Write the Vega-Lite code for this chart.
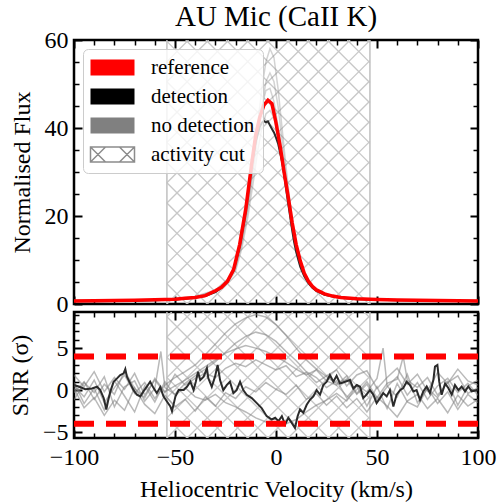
{
"$schema": "https://vega.github.io/schema/vega-lite/v6.json",
"title": {"text": "AU Mic (CaII K)", "anchor": "middle", "frame": "group", "font": "Liberation Serif", "fontSize": 29, "fontWeight": "normal", "color": "black", "offset": -5},
"padding": {"left": 7, "right": 5, "top": 2, "bottom": 0},
"spacing": 8,
"bounds": "flush",
"config": {
  "view": {"stroke": "black", "strokeWidth": 2.5},
  "axis": {"grid": false, "domain": false, "labelFlush": false, "labelOverlap": false, "labelFont": "Liberation Serif", "labelFontSize": 24, "labelColor": "black", "titleFont": "Liberation Serif", "titleFontSize": 24, "titleFontWeight": "normal", "titleColor": "black", "tickColor": "black"},
  "legend": {"orient": "top-left", "offset": 9, "padding": 8, "fillColor": "rgba(255,255,255,0.8)", "strokeColor": "#cccccc", "strokeWidth": 1, "cornerRadius": 5, "labelFont": "Liberation Serif", "labelFontSize": 21, "labelColor": "black", "symbolSize": 4, "symbolOffset": 11, "labelOffset": 28, "rowPadding": 7, "symbolOpacity": 1}
},
"datasets": {
  "hatchTop": [
    {"x":-54,"y":55.09,"x2":-43.31,"y2":60},{"x":-54,"y":50.5,"x2":-33.31,"y2":60},{"x":-54,"y":45.91,"x2":-23.31,"y2":60},{"x":-54,"y":41.32,"x2":-13.31,"y2":60},{"x":-54,"y":36.73,"x2":-3.31,"y2":60},{"x":-54,"y":32.14,"x2":6.69,"y2":60},{"x":-54,"y":27.55,"x2":16.69,"y2":60},{"x":-54,"y":22.95,"x2":26.69,"y2":60},{"x":-54,"y":18.36,"x2":36.69,"y2":60},{"x":-54,"y":13.77,"x2":46.5,"y2":59.91},{"x":-54,"y":9.18,"x2":46.5,"y2":55.32},{"x":-54,"y":4.59,"x2":46.5,"y2":50.73},{"x":-54,"y":0,"x2":46.5,"y2":46.14},{"x":-44,"y":0,"x2":46.5,"y2":41.55},{"x":-34,"y":0,"x2":46.5,"y2":36.96},{"x":-24,"y":0,"x2":46.5,"y2":32.37},{"x":-14,"y":0,"x2":46.5,"y2":27.78},{"x":-4,"y":0,"x2":46.5,"y2":23.18},{"x":6,"y":0,"x2":46.5,"y2":18.59},{"x":16,"y":0,"x2":46.5,"y2":14.0},{"x":26,"y":0,"x2":46.5,"y2":9.41},{"x":36,"y":0,"x2":46.5,"y2":4.82},
    {"x":-54,"y":4.59,"x2":-44,"y2":0},{"x":-54,"y":9.18,"x2":-34,"y2":0},{"x":-54,"y":13.77,"x2":-24,"y2":0},{"x":-54,"y":18.36,"x2":-14,"y2":0},{"x":-54,"y":22.95,"x2":-4,"y2":0},{"x":-54,"y":27.55,"x2":6,"y2":0},{"x":-54,"y":32.14,"x2":16,"y2":0},{"x":-54,"y":36.73,"x2":26,"y2":0},{"x":-54,"y":41.32,"x2":36,"y2":0},{"x":-54,"y":45.91,"x2":46,"y2":0},{"x":-54,"y":50.5,"x2":46.5,"y2":4.36},{"x":-54,"y":55.09,"x2":46.5,"y2":8.95},{"x":-54,"y":59.68,"x2":46.5,"y2":13.54},{"x":-44.69,"y":60,"x2":46.5,"y2":18.13},{"x":-34.69,"y":60,"x2":46.5,"y2":22.73},{"x":-24.69,"y":60,"x2":46.5,"y2":27.32},{"x":-14.69,"y":60,"x2":46.5,"y2":31.91},{"x":-4.69,"y":60,"x2":46.5,"y2":36.5},{"x":5.31,"y":60,"x2":46.5,"y2":41.09},{"x":15.31,"y":60,"x2":46.5,"y2":45.68},{"x":25.31,"y":60,"x2":46.5,"y2":50.27},{"x":35.31,"y":60,"x2":46.5,"y2":54.86},{"x":45.31,"y":60,"x2":46.5,"y2":59.45}
  ],
  "hatchBot": [
    {"x":-54,"y":8.73,"x2":-51.62,"y2":9.3},{"x":-54,"y":6.32,"x2":-41.62,"y2":9.3},{"x":-54,"y":3.92,"x2":-31.62,"y2":9.3},{"x":-54,"y":1.51,"x2":-21.62,"y2":9.3},{"x":-54,"y":-0.89,"x2":-11.62,"y2":9.3},{"x":-54,"y":-3.3,"x2":-1.62,"y2":9.3},{"x":-54,"y":-5.7,"x2":8.38,"y2":9.3},{"x":-44,"y":-5.7,"x2":18.38,"y2":9.3},{"x":-34,"y":-5.7,"x2":28.38,"y2":9.3},{"x":-24,"y":-5.7,"x2":38.38,"y2":9.3},{"x":-14,"y":-5.7,"x2":46.5,"y2":8.85},{"x":-4,"y":-5.7,"x2":46.5,"y2":6.44},{"x":6,"y":-5.7,"x2":46.5,"y2":4.04},{"x":16,"y":-5.7,"x2":46.5,"y2":1.63},{"x":26,"y":-5.7,"x2":46.5,"y2":-0.77},{"x":36,"y":-5.7,"x2":46.5,"y2":-3.18},
    {"x":-54,"y":-3.3,"x2":-44,"y2":-5.7},{"x":-54,"y":-0.89,"x2":-34,"y2":-5.7},{"x":-54,"y":1.51,"x2":-24,"y2":-5.7},{"x":-54,"y":3.92,"x2":-14,"y2":-5.7},{"x":-54,"y":6.32,"x2":-4,"y2":-5.7},{"x":-54,"y":8.73,"x2":6,"y2":-5.7},{"x":-46.38,"y":9.3,"x2":16,"y2":-5.7},{"x":-36.38,"y":9.3,"x2":26,"y2":-5.7},{"x":-26.38,"y":9.3,"x2":36,"y2":-5.7},{"x":-16.38,"y":9.3,"x2":46,"y2":-5.7},{"x":-6.38,"y":9.3,"x2":46.5,"y2":-3.42},{"x":3.62,"y":9.3,"x2":46.5,"y2":-1.01},{"x":13.62,"y":9.3,"x2":46.5,"y2":1.39},{"x":23.62,"y":9.3,"x2":46.5,"y2":3.8},{"x":33.62,"y":9.3,"x2":46.5,"y2":6.2},{"x":43.62,"y":9.3,"x2":46.5,"y2":8.61}
  ],
  "cut": [{"edge": -54}, {"edge": 46.5}],
  "keys": [{"kind": "reference"}, {"kind": "detection"}, {"kind": "no detection"}, {"kind": "activity cut"}],
  "thresh": [{"snr": 4}, {"snr": -4}],
  "fluxRef": [
    {"v":-100,"f":0.7},{"v":-90,"f":0.75},{"v":-80,"f":0.8},{"v":-70,"f":0.85},{"v":-60,"f":0.95},{"v":-50,"f":1.1},{"v":-45,"f":1.3},{"v":-40,"f":1.5},{"v":-35,"f":1.9},{"v":-30,"f":3.0},{"v":-27,"f":3.8},{"v":-24,"f":5.2},{"v":-21,"f":7.8},{"v":-18,"f":13.5},{"v":-15,"f":21.5},{"v":-12,"f":32},{"v":-10,"f":38.5},{"v":-8,"f":42.5},{"v":-6,"f":45.2},{"v":-4,"f":46.3},{"v":-2,"f":45.5},{"v":0,"f":41.2},{"v":2,"f":36},{"v":4,"f":30},{"v":6,"f":24.5},{"v":8,"f":18.5},{"v":10,"f":13.5},{"v":12,"f":9.8},{"v":14,"f":7.0},{"v":16,"f":5.2},{"v":18,"f":4.0},{"v":20,"f":3.2},{"v":24,"f":2.3},{"v":28,"f":1.8},{"v":32,"f":1.5},{"v":40,"f":1.2},{"v":50,"f":1.0},{"v":60,"f":0.9},{"v":70,"f":0.85},{"v":80,"f":0.8},{"v":90,"f":0.75},{"v":100,"f":0.7}
  ],
  "fluxDet": [
    {"v":-100,"f":0.6},{"v":-90,"f":0.65},{"v":-80,"f":0.7},{"v":-70,"f":0.75},{"v":-60,"f":0.85},{"v":-50,"f":1.0},{"v":-45,"f":1.2},{"v":-40,"f":1.45},{"v":-35,"f":1.8},{"v":-30,"f":2.7},{"v":-27,"f":3.7},{"v":-24,"f":5.0},{"v":-21,"f":7.6},{"v":-18,"f":13.0},{"v":-15,"f":21.0},{"v":-12,"f":31.5},{"v":-10,"f":37.0},{"v":-8,"f":40.3},{"v":-7,"f":41.2},{"v":-6,"f":41.6},{"v":-5,"f":41.3},{"v":-4,"f":41.5},{"v":-3,"f":40.6},{"v":-2,"f":39.8},{"v":-1,"f":39.0},{"v":0,"f":37.8},{"v":1,"f":36.5},{"v":2,"f":34.5},{"v":3,"f":32.3},{"v":4,"f":29.5},{"v":5,"f":26.3},{"v":6,"f":23.0},{"v":7,"f":20.0},{"v":8,"f":16.8},{"v":9,"f":14.0},{"v":10,"f":11.8},{"v":12,"f":8.5},{"v":14,"f":6.3},{"v":16,"f":4.8},{"v":18,"f":3.7},{"v":20,"f":3.0},{"v":24,"f":2.1},{"v":28,"f":1.7},{"v":32,"f":1.4},{"v":40,"f":1.1},{"v":50,"f":0.95},{"v":60,"f":0.85},{"v":70,"f":0.8},{"v":80,"f":0.75},{"v":90,"f":0.7},{"v":100,"f":0.65}
  ],
  "fluxGray": [
    {"s":"A","v":-100,"f":0.8},{"s":"A","v":-80,"f":0.85},{"s":"A","v":-60,"f":1.0},{"s":"A","v":-50,"f":1.2},{"s":"A","v":-40,"f":1.6},{"s":"A","v":-30,"f":3.0},{"s":"A","v":-24,"f":5.5},{"s":"A","v":-20,"f":8.5},{"s":"A","v":-17,"f":14},{"s":"A","v":-14,"f":22},{"s":"A","v":-11,"f":33},{"s":"A","v":-9,"f":41},{"s":"A","v":-7,"f":49},{"s":"A","v":-5,"f":55},{"s":"A","v":-3,"f":58},{"s":"A","v":-1,"f":56},{"s":"A","v":1,"f":49},{"s":"A","v":3,"f":40},{"s":"A","v":5,"f":31},{"s":"A","v":7,"f":23},{"s":"A","v":9,"f":16.5},{"s":"A","v":11,"f":11.5},{"s":"A","v":13,"f":8},{"s":"A","v":16,"f":5},{"s":"A","v":20,"f":3.2},{"s":"A","v":25,"f":2.2},{"s":"A","v":32,"f":1.5},{"s":"A","v":45,"f":1.1},{"s":"A","v":60,"f":0.95},{"s":"A","v":80,"f":0.85},{"s":"A","v":100,"f":0.8},
    {"s":"B","v":-100,"f":0.7},{"s":"B","v":-80,"f":0.8},{"s":"B","v":-60,"f":0.95},{"s":"B","v":-50,"f":1.1},{"s":"B","v":-40,"f":1.5},{"s":"B","v":-30,"f":2.9},{"s":"B","v":-24,"f":5.2},{"s":"B","v":-20,"f":8.0},{"s":"B","v":-17,"f":13.5},{"s":"B","v":-14,"f":21},{"s":"B","v":-11,"f":31},{"s":"B","v":-9,"f":38.5},{"s":"B","v":-7,"f":45},{"s":"B","v":-5,"f":50.5},{"s":"B","v":-3,"f":52.5},{"s":"B","v":-1,"f":50.5},{"s":"B","v":1,"f":45},{"s":"B","v":3,"f":37},{"s":"B","v":5,"f":29},{"s":"B","v":7,"f":21.5},{"s":"B","v":9,"f":15.5},{"s":"B","v":11,"f":10.8},{"s":"B","v":13,"f":7.6},{"s":"B","v":16,"f":4.8},{"s":"B","v":20,"f":3.1},{"s":"B","v":25,"f":2.1},{"s":"B","v":32,"f":1.5},{"s":"B","v":45,"f":1.05},{"s":"B","v":60,"f":0.9},{"s":"B","v":80,"f":0.8},{"s":"B","v":100,"f":0.75},
    {"s":"C","v":-100,"f":0.9},{"s":"C","v":-80,"f":0.95},{"s":"C","v":-60,"f":1.05},{"s":"C","v":-50,"f":1.25},{"s":"C","v":-40,"f":1.7},{"s":"C","v":-30,"f":3.2},{"s":"C","v":-24,"f":5.6},{"s":"C","v":-20,"f":8.8},{"s":"C","v":-17,"f":14.5},{"s":"C","v":-14,"f":22.5},{"s":"C","v":-11,"f":32.5},{"s":"C","v":-9,"f":39.5},{"s":"C","v":-7,"f":45},{"s":"C","v":-5,"f":48.5},{"s":"C","v":-3,"f":49},{"s":"C","v":-1,"f":46},{"s":"C","v":1,"f":40.5},{"s":"C","v":3,"f":34},{"s":"C","v":5,"f":27.5},{"s":"C","v":7,"f":21},{"s":"C","v":9,"f":15.5},{"s":"C","v":11,"f":11},{"s":"C","v":13,"f":7.8},{"s":"C","v":16,"f":5},{"s":"C","v":20,"f":3.3},{"s":"C","v":25,"f":2.3},{"s":"C","v":32,"f":1.6},{"s":"C","v":45,"f":1.2},{"s":"C","v":60,"f":1.0},{"s":"C","v":80,"f":0.9},{"s":"C","v":100,"f":0.85},
    {"s":"D","v":-100,"f":0.75},{"s":"D","v":-80,"f":0.8},{"s":"D","v":-60,"f":0.9},{"s":"D","v":-50,"f":1.05},{"s":"D","v":-40,"f":1.4},{"s":"D","v":-30,"f":2.7},{"s":"D","v":-24,"f":4.8},{"s":"D","v":-20,"f":7.5},{"s":"D","v":-17,"f":12.5},{"s":"D","v":-14,"f":19.5},{"s":"D","v":-11,"f":28.5},{"s":"D","v":-9,"f":35},{"s":"D","v":-7,"f":40},{"s":"D","v":-5,"f":43.2},{"s":"D","v":-3,"f":44},{"s":"D","v":-1,"f":42.5},{"s":"D","v":1,"f":38},{"s":"D","v":3,"f":32},{"s":"D","v":5,"f":25.5},{"s":"D","v":7,"f":19.5},{"s":"D","v":9,"f":14.3},{"s":"D","v":11,"f":10},{"s":"D","v":13,"f":7.2},{"s":"D","v":16,"f":4.6},{"s":"D","v":20,"f":3.0},{"s":"D","v":25,"f":2.1},{"s":"D","v":32,"f":1.5},{"s":"D","v":45,"f":1.05},{"s":"D","v":60,"f":0.9},{"s":"D","v":80,"f":0.8},{"s":"D","v":100,"f":0.75}
  ],
  "snrDet": [
    {"v":-100,"r":0.6},{"v":-97.7,"r":0.43},{"v":-94.4,"r":0.1},{"v":-91.1,"r":0.2},{"v":-88.6,"r":0.4},{"v":-87,"r":0.0},{"v":-85.3,"r":-0.95},{"v":-84,"r":-2.3},{"v":-83.2,"r":-1.35},{"v":-82,"r":-0.15},{"v":-80.4,"r":1.0},{"v":-78.7,"r":1.4},{"v":-77.1,"r":1.8},{"v":-75.4,"r":2.0},{"v":-74.6,"r":2.5},{"v":-73.8,"r":1.6},{"v":-72.2,"r":0.8},{"v":-70.5,"r":0.0},{"v":-68.9,"r":-0.55},{"v":-67.2,"r":-0.75},{"v":-65.6,"r":-0.15},{"v":-63.9,"r":0.43},{"v":-62.3,"r":1.0},{"v":-60.6,"r":0.24},{"v":-59,"r":-0.36},{"v":-57.3,"r":0.36},{"v":-55.7,"r":-0.75},{"v":-54,"r":-1.35},{"v":-52.3,"r":-1.95},{"v":-51.5,"r":-2.5},{"v":-49.8,"r":-0.76},{"v":-48.2,"r":0.0},{"v":-45.7,"r":0.0},{"v":-44.1,"r":0.4},{"v":-42.4,"r":1.0},{"v":-40.8,"r":0.0},{"v":-39.7,"r":1.0},{"v":-38.6,"r":2.2},{"v":-37.5,"r":1.2},{"v":-35.8,"r":1.6},{"v":-34.2,"r":2.6},{"v":-33.5,"r":1.4},{"v":-31.8,"r":0.4},{"v":-30.2,"r":1.6},{"v":-28.9,"r":3.0},{"v":-27.7,"r":1.2},{"v":-26.1,"r":0.0},{"v":-24.4,"r":0.6},{"v":-22.8,"r":1.0},{"v":-21.1,"r":-0.36},{"v":-19.5,"r":0.0},{"v":-17.8,"r":1.0},{"v":-16.2,"r":0.0},{"v":-14.5,"r":-0.55},{"v":-12,"r":-0.95},{"v":-9.5,"r":-1.55},{"v":-7.1,"r":-2.15},{"v":-4.6,"r":-3.1},{"v":-2.1,"r":-3.5},{"v":-0.4,"r":-3.3},{"v":1.2,"r":-3.7},{"v":2.9,"r":-3.1},{"v":4.5,"r":-4.1},{"v":6.1,"r":-3.3},{"v":7.8,"r":-3.9},{"v":9.4,"r":-4.5},{"v":10.7,"r":-3.1},{"v":11.9,"r":-2.3},{"v":13.5,"r":-2.7},{"v":15.2,"r":-1.75},{"v":16.8,"r":-1.15},{"v":18.5,"r":-0.75},{"v":20.1,"r":0.0},{"v":21.8,"r":-0.55},{"v":23.4,"r":0.6},{"v":25.1,"r":1.0},{"v":26.7,"r":1.8},{"v":28.4,"r":1.0},{"v":30,"r":1.7},{"v":31.7,"r":0.8},{"v":34.2,"r":1.0},{"v":36.6,"r":1.2},{"v":38.3,"r":0.2},{"v":40,"r":0.6},{"v":41.6,"r":0.4},{"v":43.2,"r":-0.95},{"v":44.9,"r":-0.5},{"v":46.5,"r":0.0},{"v":48.2,"r":-0.55},{"v":49.8,"r":-1.55},{"v":51.5,"r":-0.95},{"v":53.1,"r":-0.36},{"v":54.8,"r":-0.75},{"v":56.4,"r":0.0},{"v":58.1,"r":-1.95},{"v":59.7,"r":-0.55},{"v":61.4,"r":0.0},{"v":63,"r":0.25},{"v":64.7,"r":1.0},{"v":66.3,"r":0.6},{"v":68,"r":-0.15},{"v":69.6,"r":0.0},{"v":71.3,"r":-1.15},{"v":72.9,"r":-0.15},{"v":74.6,"r":0.43},{"v":76.2,"r":-0.36},{"v":77.9,"r":1.2},{"v":78.7,"r":2.8},{"v":79.9,"r":3.0},{"v":80.8,"r":1.0},{"v":82,"r":-0.55},{"v":83.7,"r":0.8},{"v":85.3,"r":0.25},{"v":87,"r":-0.55},{"v":88.6,"r":0.6},{"v":90.3,"r":0.0},{"v":91.9,"r":0.43},{"v":93.6,"r":-0.15},{"v":95.2,"r":0.43},{"v":96.9,"r":-0.15},{"v":99.3,"r":0.0},{"v":100,"r":0.1}
  ],
  "snrGray": [
    {"s":"1","v":-100,"r":0.5},{"s":"1","v":-95,"r":-0.8},{"s":"1","v":-90,"r":1.2},{"s":"1","v":-85,"r":-1.5},{"s":"1","v":-80,"r":0.3},{"s":"1","v":-75,"r":1.8},{"s":"1","v":-70,"r":-0.4},{"s":"1","v":-65,"r":0.9},{"s":"1","v":-60,"r":-1.0},{"s":"1","v":-55,"r":0.6},{"s":"1","v":-50,"r":1.5},{"s":"1","v":-45,"r":2.2},{"s":"1","v":-40,"r":3.0},{"s":"1","v":-35,"r":4.2},{"s":"1","v":-30,"r":5.5},{"s":"1","v":-25,"r":6.8},{"s":"1","v":-20,"r":7.9},{"s":"1","v":-15,"r":8.6},{"s":"1","v":-10,"r":9.0},{"s":"1","v":-5,"r":8.7},{"s":"1","v":0,"r":7.8},{"s":"1","v":5,"r":6.5},{"s":"1","v":10,"r":5.0},{"s":"1","v":15,"r":3.6},{"s":"1","v":20,"r":2.5},{"s":"1","v":25,"r":1.6},{"s":"1","v":30,"r":0.8},{"s":"1","v":35,"r":1.3},{"s":"1","v":40,"r":-0.5},{"s":"1","v":45,"r":0.7},{"s":"1","v":50,"r":-1.2},{"s":"1","v":55,"r":0.4},{"s":"1","v":60,"r":1.6},{"s":"1","v":65,"r":-0.6},{"s":"1","v":70,"r":0.9},{"s":"1","v":75,"r":-1.1},{"s":"1","v":80,"r":0.5},{"s":"1","v":85,"r":1.4},{"s":"1","v":90,"r":-0.3},{"s":"1","v":95,"r":0.8},{"s":"1","v":100,"r":-0.6},
    {"s":"2","v":-100,"r":-1.2},{"s":"2","v":-95,"r":0.9},{"s":"2","v":-90,"r":-0.3},{"s":"2","v":-85,"r":1.6},{"s":"2","v":-80,"r":-2.0},{"s":"2","v":-75,"r":0.4},{"s":"2","v":-70,"r":1.1},{"s":"2","v":-65,"r":-1.3},{"s":"2","v":-60,"r":0.2},{"s":"2","v":-57,"r":4.6},{"s":"2","v":-55,"r":0.3},{"s":"2","v":-50,"r":-0.5},{"s":"2","v":-45,"r":0.8},{"s":"2","v":-40,"r":1.7},{"s":"2","v":-35,"r":2.5},{"s":"2","v":-30,"r":3.4},{"s":"2","v":-25,"r":4.5},{"s":"2","v":-20,"r":5.6},{"s":"2","v":-15,"r":6.4},{"s":"2","v":-10,"r":6.9},{"s":"2","v":-5,"r":6.6},{"s":"2","v":0,"r":5.8},{"s":"2","v":5,"r":4.6},{"s":"2","v":10,"r":3.5},{"s":"2","v":15,"r":2.2},{"s":"2","v":20,"r":1.5},{"s":"2","v":25,"r":0.3},{"s":"2","v":30,"r":1.1},{"s":"2","v":35,"r":-0.9},{"s":"2","v":40,"r":0.6},{"s":"2","v":45,"r":-0.2},{"s":"2","v":50,"r":1.4},{"s":"2","v":53,"r":5.0},{"s":"2","v":55,"r":0.5},{"s":"2","v":60,"r":-0.8},{"s":"2","v":65,"r":1.9},{"s":"2","v":70,"r":-1.5},{"s":"2","v":75,"r":0.2},{"s":"2","v":80,"r":-0.9},{"s":"2","v":85,"r":1.0},{"s":"2","v":90,"r":-1.8},{"s":"2","v":95,"r":0.5},{"s":"2","v":100,"r":1.2},
    {"s":"3","v":-100,"r":0.9},{"s":"3","v":-95,"r":-1.6},{"s":"3","v":-90,"r":0.2},{"s":"3","v":-85,"r":-2.4},{"s":"3","v":-80,"r":1.1},{"s":"3","v":-75,"r":-0.7},{"s":"3","v":-70,"r":-2.6},{"s":"3","v":-65,"r":0.5},{"s":"3","v":-60,"r":-1.4},{"s":"3","v":-55,"r":1.0},{"s":"3","v":-50,"r":-0.6},{"s":"3","v":-45,"r":0.3},{"s":"3","v":-40,"r":-0.8},{"s":"3","v":-35,"r":-1.2},{"s":"3","v":-30,"r":-0.5},{"s":"3","v":-25,"r":-1.5},{"s":"3","v":-20,"r":-2.0},{"s":"3","v":-15,"r":-2.6},{"s":"3","v":-10,"r":-3.3},{"s":"3","v":-5,"r":-3.8},{"s":"3","v":0,"r":-4.2},{"s":"3","v":5,"r":-4.0},{"s":"3","v":10,"r":-3.5},{"s":"3","v":15,"r":-2.6},{"s":"3","v":20,"r":-1.8},{"s":"3","v":25,"r":-1.2},{"s":"3","v":30,"r":-0.4},{"s":"3","v":35,"r":-1.3},{"s":"3","v":40,"r":0.5},{"s":"3","v":45,"r":-1.9},{"s":"3","v":50,"r":0.4},{"s":"3","v":55,"r":-2.2},{"s":"3","v":60,"r":0.8},{"s":"3","v":65,"r":-1.4},{"s":"3","v":70,"r":-2.0},{"s":"3","v":75,"r":0.3},{"s":"3","v":80,"r":-1.6},{"s":"3","v":85,"r":-0.2},{"s":"3","v":90,"r":-2.3},{"s":"3","v":95,"r":-0.5},{"s":"3","v":100,"r":-1.5},
    {"s":"4","v":-100,"r":1.8},{"s":"4","v":-95,"r":0.4},{"s":"4","v":-90,"r":2.2},{"s":"4","v":-85,"r":-0.2},{"s":"4","v":-80,"r":1.5},{"s":"4","v":-75,"r":0.1},{"s":"4","v":-70,"r":2.0},{"s":"4","v":-65,"r":-0.6},{"s":"4","v":-60,"r":1.2},{"s":"4","v":-55,"r":-0.3},{"s":"4","v":-50,"r":1.9},{"s":"4","v":-45,"r":0.6},{"s":"4","v":-40,"r":1.4},{"s":"4","v":-35,"r":2.0},{"s":"4","v":-30,"r":1.5},{"s":"4","v":-25,"r":2.6},{"s":"4","v":-20,"r":3.2},{"s":"4","v":-15,"r":2.8},{"s":"4","v":-10,"r":3.6},{"s":"4","v":-5,"r":3.0},{"s":"4","v":0,"r":2.4},{"s":"4","v":5,"r":2.9},{"s":"4","v":10,"r":1.6},{"s":"4","v":15,"r":2.1},{"s":"4","v":20,"r":0.9},{"s":"4","v":25,"r":1.7},{"s":"4","v":30,"r":2.4},{"s":"4","v":35,"r":0.5},{"s":"4","v":40,"r":1.8},{"s":"4","v":45,"r":2.3},{"s":"4","v":50,"r":0.2},{"s":"4","v":55,"r":1.5},{"s":"4","v":60,"r":2.6},{"s":"4","v":65,"r":0.7},{"s":"4","v":70,"r":1.9},{"s":"4","v":75,"r":-0.1},{"s":"4","v":80,"r":2.1},{"s":"4","v":85,"r":0.8},{"s":"4","v":90,"r":2.5},{"s":"4","v":95,"r":1.1},{"s":"4","v":100,"r":0.6},
    {"s":"5","v":-100,"r":-0.3},{"s":"5","v":-95,"r":1.0},{"s":"5","v":-90,"r":-1.1},{"s":"5","v":-85,"r":0.7},{"s":"5","v":-80,"r":-0.5},{"s":"5","v":-75,"r":2.3},{"s":"5","v":-70,"r":0.2},{"s":"5","v":-65,"r":-0.9},{"s":"5","v":-60,"r":1.4},{"s":"5","v":-55,"r":-0.2},{"s":"5","v":-50,"r":0.5},{"s":"5","v":-45,"r":1.2},{"s":"5","v":-40,"r":2.0},{"s":"5","v":-35,"r":2.8},{"s":"5","v":-30,"r":3.6},{"s":"5","v":-25,"r":4.4},{"s":"5","v":-20,"r":4.9},{"s":"5","v":-15,"r":5.3},{"s":"5","v":-10,"r":5.0},{"s":"5","v":-5,"r":4.6},{"s":"5","v":0,"r":4.0},{"s":"5","v":5,"r":3.3},{"s":"5","v":10,"r":2.5},{"s":"5","v":15,"r":1.8},{"s":"5","v":20,"r":2.4},{"s":"5","v":25,"r":1.1},{"s":"5","v":30,"r":0.6},{"s":"5","v":35,"r":1.7},{"s":"5","v":40,"r":-0.4},{"s":"5","v":45,"r":1.0},{"s":"5","v":50,"r":-0.9},{"s":"5","v":55,"r":0.8},{"s":"5","v":60,"r":1.3},{"s":"5","v":63,"r":4.0},{"s":"5","v":65,"r":1.2},{"s":"5","v":70,"r":0.3},{"s":"5","v":75,"r":1.5},{"s":"5","v":80,"r":-0.6},{"s":"5","v":85,"r":0.9},{"s":"5","v":90,"r":1.7},{"s":"5","v":95,"r":-0.4},{"s":"5","v":100,"r":0.3},
    {"s":"6","v":-100,"r":0.2},{"s":"6","v":-95,"r":-2.1},{"s":"6","v":-90,"r":-0.9},{"s":"6","v":-85,"r":-3.0},{"s":"6","v":-80,"r":-1.2},{"s":"6","v":-75,"r":-2.4},{"s":"6","v":-70,"r":0.3},{"s":"6","v":-65,"r":-1.7},{"s":"6","v":-60,"r":-2.8},{"s":"6","v":-55,"r":-0.6},{"s":"6","v":-50,"r":-2.0},{"s":"6","v":-45,"r":-1.1},{"s":"6","v":-40,"r":-2.5},{"s":"6","v":-35,"r":-0.8},{"s":"6","v":-30,"r":-1.9},{"s":"6","v":-25,"r":-0.3},{"s":"6","v":-20,"r":-1.0},{"s":"6","v":-15,"r":0.4},{"s":"6","v":-10,"r":-0.2},{"s":"6","v":-5,"r":0.9},{"s":"6","v":0,"r":0.1},{"s":"6","v":5,"r":-0.5},{"s":"6","v":10,"r":0.6},{"s":"6","v":15,"r":-1.1},{"s":"6","v":20,"r":-0.4},{"s":"6","v":25,"r":-1.8},{"s":"6","v":30,"r":-0.7},{"s":"6","v":35,"r":-2.1},{"s":"6","v":40,"r":-1.0},{"s":"6","v":45,"r":-2.6},{"s":"6","v":50,"r":-0.8},{"s":"6","v":55,"r":-1.9},{"s":"6","v":60,"r":-3.2},{"s":"6","v":65,"r":-1.3},{"s":"6","v":70,"r":-0.5},{"s":"6","v":75,"r":-2.2},{"s":"6","v":80,"r":-1.0},{"s":"6","v":85,"r":-2.7},{"s":"6","v":90,"r":-0.6},{"s":"6","v":95,"r":-1.9},{"s":"6","v":100,"r":-1.1}
  ]
},
"vconcat": [
  {
    "width": 404, "height": 264,
    "resolve": {"axis": {"x": "independent", "y": "independent"}},
    "layer": [
      {
        "data": {"name": "hatchTop"},
        "mark": {"type": "rule", "color": "#c8c8c8", "strokeWidth": 1.3, "clip": true},
        "encoding": {
          "x": {"field": "x", "type": "quantitative", "scale": {"domain": [-100, 100], "nice": false, "zero": false},
                "axis": {"orient": "bottom", "values": [-100, -50, 0, 50, 100], "tickSize": -8, "tickWidth": 2, "labels": false, "title": null}},
          "y": {"field": "y", "type": "quantitative", "scale": {"domain": [0, 60], "nice": false, "zero": false},
                "axis": {"orient": "left", "values": [0, 20, 40, 60], "tickSize": -8, "tickWidth": 2, "labelPadding": 14, "labelFont": "Liberation Serif", "labelFontSize": 24, "title": "Normalised Flux", "titleFont": "Liberation Serif", "titlePadding": 10}},
          "x2": {"field": "x2"},
          "y2": {"field": "y2"}
        }
      },
      {
        "data": {"name": "cut"},
        "mark": {"type": "rule", "color": "#c0c0c0", "strokeWidth": 1.5},
        "encoding": {
          "x": {"field": "edge", "type": "quantitative",
                "axis": {"orient": "top", "values": [-90, -80, -70, -60, -40, -30, -20, -10, 10, 20, 30, 40, 60, 70, 80, 90], "tickSize": -5, "tickWidth": 1.5, "labels": false, "title": null}}
        }
      },
      {
        "data": {"name": "fluxGray"},
        "mark": {"type": "line", "color": "#808080", "opacity": 0.35, "strokeWidth": 1.5, "clip": true},
        "encoding": {
          "x": {"field": "v", "type": "quantitative",
                "axis": {"orient": "bottom", "values": [-90, -80, -70, -60, -40, -30, -20, -10, 10, 20, 30, 40, 60, 70, 80, 90], "tickSize": -5, "tickWidth": 1.5, "labels": false, "title": null}},
          "y": {"field": "f", "type": "quantitative",
                "axis": {"orient": "left", "values": [5, 10, 15, 25, 30, 35, 45, 50, 55], "tickSize": -5, "tickWidth": 1.5, "labels": false, "title": null}},
          "detail": {"field": "s"}
        }
      },
      {
        "data": {"name": "fluxDet"},
        "mark": {"type": "line", "color": "#2b2b2b", "strokeWidth": 2, "clip": true},
        "encoding": {
          "x": {"field": "v", "type": "quantitative",
                "axis": {"orient": "top", "values": [-100, -50, 0, 50, 100], "tickSize": -8, "tickWidth": 2, "labels": false, "title": null}},
          "y": {"field": "f", "type": "quantitative",
                "axis": {"orient": "right", "values": [0, 20, 40, 60], "tickSize": -8, "tickWidth": 2, "labels": false, "title": null}}
        }
      },
      {
        "data": {"name": "fluxRef"},
        "mark": {"type": "line", "color": "#ff0000", "strokeWidth": 3.5, "clip": true},
        "encoding": {
          "x": {"field": "v", "type": "quantitative", "axis": null},
          "y": {"field": "f", "type": "quantitative",
                "axis": {"orient": "right", "values": [5, 10, 15, 25, 30, 35, 45, 50, 55], "tickSize": -5, "tickWidth": 1.5, "labels": false, "title": null}}
        }
      },
      {
        "data": {"name": "keys"},
        "mark": {"type": "point", "filled": true, "opacity": 0, "stroke": "#8c8c8c"},
        "encoding": {
          "color": {"field": "kind", "type": "nominal",
                    "scale": {"domain": ["reference", "detection", "no detection", "activity cut"], "range": ["#ff0000", "#000000", "#808080", "transparent"]},
                    "legend": {"title": null, "symbolSize": 4}},
          "shape": {"field": "kind", "type": "nominal",
                    "scale": {"domain": ["reference", "detection", "no detection", "activity cut"], "range": ["M-22,-8H22V8H-22Z", "M-22,-8H22V8H-22Z", "M-22,-8H22V8H-22Z", "M-22,-7.5H22V7.5H-22ZM-22,-7.5L-7,7.5M-22,7.5L-7,-7.5M7,-7.5L22,7.5M7,7.5L22,-7.5"]},
                    "legend": {"title": null, "symbolSize": 4}},
          "strokeWidth": {"field": "kind", "type": "nominal",
                    "scale": {"type": "ordinal", "domain": ["reference", "detection", "no detection", "activity cut"], "range": [0, 0, 0, 1.5]},
                    "legend": {"title": null, "symbolSize": 4}}
        }
      }
    ]
  },
  {
    "width": 404, "height": 126,
    "resolve": {"axis": {"x": "independent", "y": "independent"}},
    "layer": [
      {
        "data": {"name": "hatchBot"},
        "mark": {"type": "rule", "color": "#c8c8c8", "strokeWidth": 1.3, "clip": true},
        "encoding": {
          "x": {"field": "x", "type": "quantitative", "scale": {"domain": [-100, 100], "nice": false, "zero": false},
                "axis": {"orient": "bottom", "values": [-100, -50, 0, 50, 100], "tickSize": -8, "tickWidth": 2, "labelPadding": 15, "labelFont": "Liberation Serif", "labelFontSize": 24, "title": "Heliocentric Velocity (km/s)", "titleFont": "Liberation Serif", "titlePadding": 8}},
          "y": {"field": "y", "type": "quantitative", "scale": {"domain": [-5.7, 9.3], "nice": false, "zero": false},
                "axis": {"orient": "left", "values": [-5, 0, 5], "tickSize": -8, "tickWidth": 2, "labelPadding": 14, "labelFont": "Liberation Serif", "labelFontSize": 24, "title": "SNR (σ)", "titleFont": "Liberation Serif", "titlePadding": 10}},
          "x2": {"field": "x2"},
          "y2": {"field": "y2"}
        }
      },
      {
        "data": {"name": "cut"},
        "mark": {"type": "rule", "color": "#c0c0c0", "strokeWidth": 1.5},
        "encoding": {
          "x": {"field": "edge", "type": "quantitative",
                "axis": {"orient": "top", "values": [-90, -80, -70, -60, -40, -30, -20, -10, 10, 20, 30, 40, 60, 70, 80, 90], "tickSize": -5, "tickWidth": 1.5, "labels": false, "title": null}}
        }
      },
      {
        "data": {"name": "snrGray"},
        "mark": {"type": "line", "color": "#808080", "opacity": 0.55, "strokeWidth": 1.5, "clip": true},
        "encoding": {
          "x": {"field": "v", "type": "quantitative",
                "axis": {"orient": "bottom", "values": [-90, -80, -70, -60, -40, -30, -20, -10, 10, 20, 30, 40, 60, 70, 80, 90], "tickSize": -5, "tickWidth": 1.5, "labels": false, "title": null}},
          "y": {"field": "r", "type": "quantitative",
                "axis": {"orient": "left", "values": [-4, -3, -2, -1, 1, 2, 3, 4, 6, 7, 8, 9], "tickSize": -5, "tickWidth": 1.5, "labels": false, "title": null}},
          "detail": {"field": "s"}
        }
      },
      {
        "data": {"name": "snrDet"},
        "mark": {"type": "line", "color": "#2b2b2b", "strokeWidth": 2, "clip": true},
        "encoding": {
          "x": {"field": "v", "type": "quantitative",
                "axis": {"orient": "top", "values": [-100, -50, 0, 50, 100], "tickSize": -8, "tickWidth": 2, "labels": false, "title": null}},
          "y": {"field": "r", "type": "quantitative",
                "axis": {"orient": "right", "values": [-5, 0, 5], "tickSize": -8, "tickWidth": 2, "labels": false, "title": null}}
        }
      },
      {
        "data": {"name": "thresh"},
        "mark": {"type": "rule", "color": "#ff0000", "strokeWidth": 6, "strokeDash": [20, 12]},
        "encoding": {
          "y": {"field": "snr", "type": "quantitative",
                "axis": {"orient": "right", "values": [-4, -3, -2, -1, 1, 2, 3, 4, 6, 7, 8, 9], "tickSize": -5, "tickWidth": 1.5, "labels": false, "title": null}}
        }
      }
    ]
  }
]
}
